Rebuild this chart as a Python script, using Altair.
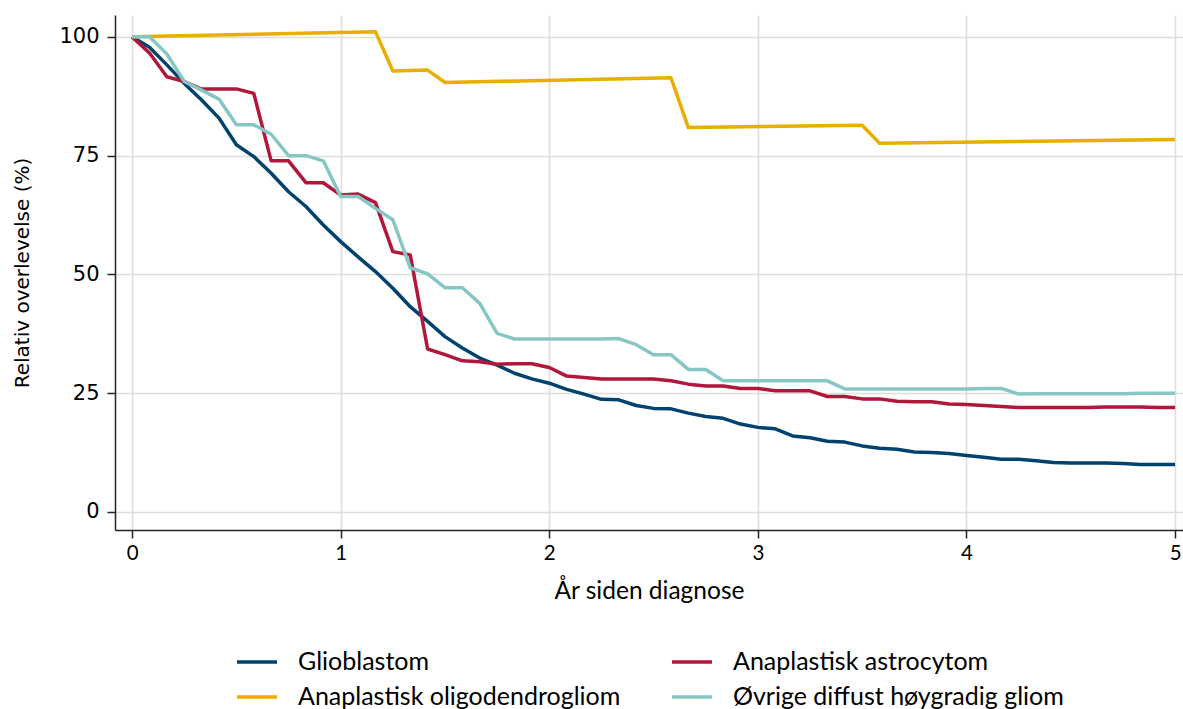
import altair as alt
import pandas as pd

# Relative survival (%) by month since diagnosis, 0..60 months
months = list(range(61))

glioblastom = [
    100.0, 97.8, 94.1, 90.2, 86.7, 82.9, 77.3, 74.8, 71.3, 67.4,
    64.3, 60.4, 56.9, 53.7, 50.6, 47.1, 43.2, 40.1, 36.9, 34.5,
    32.4, 30.9, 29.2, 28.0, 27.1, 25.8, 24.8, 23.7, 23.6, 22.4,
    21.8, 21.7, 20.8, 20.1, 19.7, 18.5, 17.8, 17.5, 16.0, 15.6,
    14.9, 14.7, 13.9, 13.4, 13.2, 12.6, 12.5, 12.3, 11.9, 11.5,
    11.1, 11.1, 10.8, 10.4, 10.3, 10.3, 10.3, 10.2, 10.0, 10.0,
    10.0,
]

astrocytom = [
    100.0, 96.6, 91.6, 90.6, 89.0, 89.0, 89.05, 88.1, 73.9, 73.9,
    69.3, 69.3, 66.7, 66.9, 65.1, 54.8, 54.1, 34.3, 33.1, 31.8,
    31.6, 31.1, 31.2, 31.2, 30.4, 28.6, 28.3, 28.0, 28.0, 28.0,
    28.0, 27.6, 26.9, 26.5, 26.5, 26.0, 26.0, 25.5, 25.5, 25.5,
    24.3, 24.3, 23.8, 23.8, 23.3, 23.2, 23.2, 22.7, 22.6, 22.4,
    22.2, 22.0, 22.0, 22.0, 22.0, 22.0, 22.1, 22.1, 22.1, 22.0,
    22.0,
]

ovrige = [
    100.0, 100.0, 96.4, 90.6, 88.8, 86.9, 81.5, 81.5, 79.5, 75.0,
    75.0, 73.9, 66.4, 66.4, 63.9, 61.5, 51.4, 50.1, 47.2, 47.2,
    43.9, 37.6, 36.4, 36.4, 36.4, 36.4, 36.4, 36.4, 36.5, 35.2,
    33.1, 33.1, 30.0, 30.0, 27.6, 27.6, 27.6, 27.6, 27.6, 27.6,
    27.6, 25.9, 25.9, 25.9, 25.9, 25.9, 25.9, 25.9, 25.9, 26.0,
    26.0, 24.8, 24.9, 24.9, 24.9, 24.9, 24.9, 24.9, 25.0, 25.0,
    25.0,
]

# Oligodendroglioma: only the months where the curve changes course
oligo_months = [0, 14, 15, 17, 18, 31, 32, 42, 43, 60]
oligo = [100.0, 101.1, 92.8, 93.0, 90.4, 91.4, 80.9, 81.4, 77.6, 78.4]

# Legend fills column by column, so this order gives two rows of
# Glioblastom / Anaplastisk astrocytom and oligodendrogliom / Øvrige
groups = [
    "Glioblastom",
    "Anaplastisk oligodendrogliom",
    "Anaplastisk astrocytom",
    "Øvrige diffust høygradig gliom",
]
colors = ["#00426E", "#E8AE00", "#B0173A", "#88C6C4"]

series = [
    ("Glioblastom", months, glioblastom),
    ("Anaplastisk astrocytom", months, astrocytom),
    ("Anaplastisk oligodendrogliom", oligo_months, oligo),
    ("Øvrige diffust høygradig gliom", months, ovrige),
]
rows = []
for name, ms, vals in series:
    for m, v in zip(ms, vals):
        rows.append({"år": m / 12, "overlevelse": v, "gruppe": name})
df = pd.DataFrame(rows)

y_font = "DejaVu Sans"
x_font = "Lato"

chart = (
    alt.Chart(df)
    .mark_line(strokeWidth=3.5, strokeJoin="round")
    .encode(
        x=alt.X(
            "år:Q",
            title="År siden diagnose",
            scale=alt.Scale(domain=[-0.082, 5.038], nice=False, zero=False),
            axis=alt.Axis(values=[0, 1, 2, 3, 4, 5], format="d",
                          labelFont=x_font, labelFontSize=20.5,
                          titleFont=x_font, titleFontSize=24.5,
                          titleFontWeight="normal", titlePadding=16,
                          labelPadding=5),
        ),
        y=alt.Y(
            "overlevelse:Q",
            title="Relativ overlevelse (%)",
            scale=alt.Scale(domain=[-3.8, 104.6], nice=False, zero=False),
            axis=alt.Axis(values=[0, 25, 50, 75, 100],
                          labelFont=y_font, labelFontSize=21,
                          titleFont=y_font, titleFontSize=20,
                          titleFontWeight="normal", titlePadding=26,
                          labelPadding=8),
        ),
        color=alt.Color(
            "gruppe:N",
            scale=alt.Scale(domain=groups, range=colors),
            legend=alt.Legend(
                title=None,
                orient="none",
                legendX=120,
                legendY=625,
                columns=2,
                symbolType="stroke",
                symbolStrokeWidth=3.5,
                symbolSize=1600,
                labelFont=x_font,
                labelFontSize=25,
                labelOffset=19,
                columnPadding=44,
                rowPadding=-5,
                labelLimit=500,
            ),
        ),
        detail="gruppe:N",
        order="år:Q",
    )
    .properties(
        width=1068,
        height=515,
        autosize=alt.AutoSizeParams(type="none"),
        padding={"left": 115, "top": 15, "right": 0, "bottom": 179},
    )
    .configure_view(stroke=None)
    .configure_axis(
        domainColor="#222222",
        domainWidth=1.5,
        tickColor="#222222",
        tickWidth=1.5,
        tickSize=8,
        gridColor="#DEDEDE",
        gridWidth=1.6,
        labelColor="#000000",
        titleColor="#000000",
    )
)

chart.save("out.html", embed_options={"renderer": "svg", "actions": False})
